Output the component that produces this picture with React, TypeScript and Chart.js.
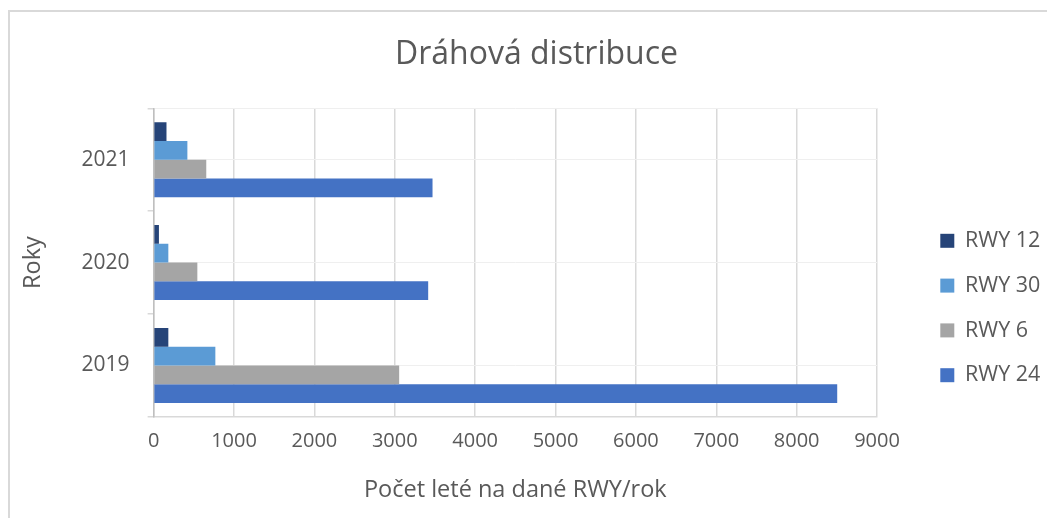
import React, { useEffect, useRef } from 'react';
import { Chart, registerables } from 'chart.js';

Chart.register(...registerables);

const years = ['2021', '2020', '2019'];
const seriesNames = ['RWY 12', 'RWY 30', 'RWY 6', 'RWY 24'];
const rwy12 = [160, 66, 183];
const rwy30 = [420, 183, 768];
const rwy6 = [655, 544, 3055];
const rwy24 = [3470, 3416, 8505];
const seriesColors = ['#264478', '#5B9BD5', '#A5A5A5', '#4472C4'];
const xMin = 0;
const xMax = 9000;
const xStep = 1000;

const titleText = 'Dráhová distribuce';
const xTitle = 'Počet leté na dané RWY/rok';
const yTitle = 'Roky';

const FONT = "'Open Sans', sans-serif";
const TEXT = '#595959';

export default function App() {
  const ref = useRef<HTMLCanvasElement | null>(null);

  useEffect(() => {
    if (!ref.current) return;
    const values = [rwy12, rwy30, rwy6, rwy24];
    const chart = new Chart(ref.current, {
      type: 'bar',
      data: {
        labels: years,
        datasets: seriesNames.map((name, i) => ({
          label: name,
          data: values[i],
          backgroundColor: seriesColors[i],
          borderWidth: 0,
          categoryPercentage: 0.73,
          barPercentage: 1.0,
        })),
      },
      options: {
        indexAxis: 'y',
        animation: false,
        responsive: false,
        maintainAspectRatio: false,
        layout: { padding: { left: 16, right: 0, top: 0, bottom: 11 } },
        scales: {
          x: {
            type: 'linear',
            min: xMin,
            max: xMax,
            ticks: {
              stepSize: xStep,
              color: TEXT,
              padding: 12,
              maxRotation: 0,
              font: { family: FONT, size: 20 },
              callback: (v: any) => String(v),
            },
            grid: { color: '#D9D9D9', lineWidth: 1.5, drawTicks: false },
            border: { display: true, color: '#D9D9D9', width: 1.5 },
            title: {
              display: true,
              text: xTitle,
              color: TEXT,
              font: { family: FONT, size: 23.5 },
              padding: { top: 11, bottom: 3 },
            },
          },
          xTop: {
            type: 'linear',
            position: 'top',
            display: true,
            min: xMin,
            max: xMax,
            grid: { display: false, drawTicks: false },
            border: { display: true, color: '#EFEFEF', width: 1 },
            ticks: { display: false },
            afterFit: (s: any) => {
              s.height = 0;
            },
          },
          y: {
            type: 'category',
            ticks: {
              color: TEXT,
              padding: 18,
              font: { family: FONT, size: 21 },
            },
            grid: {
              offset: true,
              drawOnChartArea: false,
              drawTicks: true,
              tickLength: 6,
              color: '#D9D9D9',
              lineWidth: 1.5,
            },
            border: { display: true, color: '#BFBFBF', width: 1.5 },
            title: {
              display: true,
              text: yTitle,
              color: TEXT,
              font: { family: FONT, size: 23.5 },
              padding: { top: -7, bottom: 17 },
            },
          },
          yMid: {
            type: 'category',
            position: 'left',
            display: true,
            offset: true,
            grid: { offset: false, color: '#EFEFEF', lineWidth: 1, drawTicks: false },
            border: { display: false },
            ticks: { display: false },
            afterFit: (s: any) => {
              s.width = 0;
            },
          },
          yGap: {
            type: 'category',
            position: 'right',
            display: true,
            grid: { display: false, drawTicks: false },
            border: { display: false },
            ticks: { display: false },
            afterFit: (s: any) => {
              s.width = 40;
            },
          },
        },
        plugins: {
          title: {
            display: true,
            text: titleText,
            color: TEXT,
            font: { family: FONT, size: 32, weight: 'normal' },
            padding: { top: 24, bottom: 34 },
          },
          legend: {
            display: true,
            position: 'right',
            maxWidth: 130,
            title: {
              display: true,
              text: ' ',
              font: { family: FONT, size: 10 },
              padding: { top: 0, bottom: 85 },
            },
            labels: {
              boxWidth: 14,
              boxHeight: 14,
              padding: 23.3,
              color: TEXT,
              font: { family: FONT, size: 21.5 },
            },
          },
          tooltip: { enabled: false },
        },
      },
    } as any);
    return () => chart.destroy();
  }, []);

  return (
    <div
      style={{
        marginTop: 2,
        borderTop: '2px solid #D9D9D9',
        borderLeft: '2px solid #D9D9D9',
        width: 1037,
        height: 506,
        background: '#fff',
      }}
    >
      <canvas ref={ref} width={1037} height={506} style={{ display: 'block', width: 1037, height: 506 }} />
    </div>
  );
}
